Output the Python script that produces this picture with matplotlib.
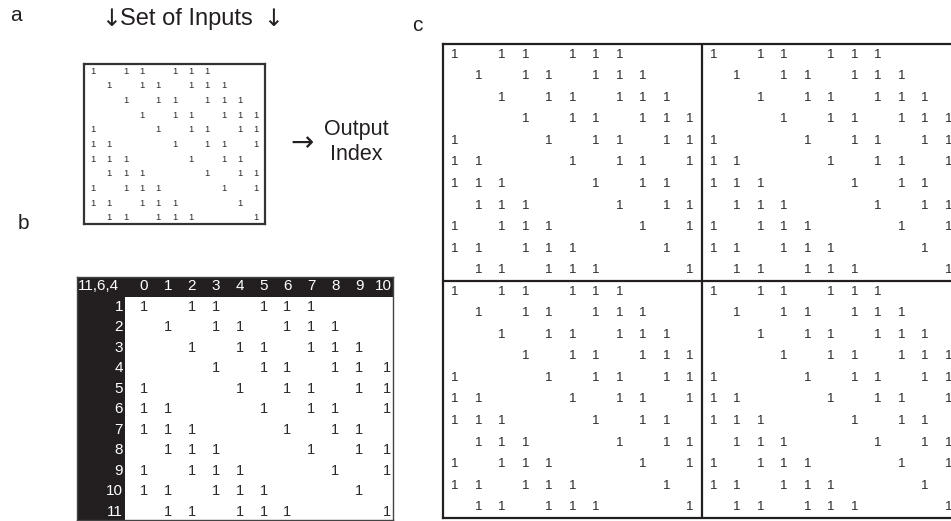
import matplotlib
matplotlib.use("Agg")
import matplotlib.pyplot as plt
from matplotlib.patches import Rectangle

plt.rcParams['font.family'] = ['Liberation Sans', 'DejaVu Sans']

# ---- data -------------------------------------------------------------
design_label = "11,6,4"
col_labels = ["0", "1", "2", "3", "4", "5", "6", "7", "8", "9", "10"]
row_labels = ["1", "2", "3", "4", "5", "6", "7", "8", "9", "10", "11"]
# columns holding a "1" in each row of the (11,6,4) design
ones_rows = [
    [0, 2, 3, 5, 6, 7],
    [1, 3, 4, 6, 7, 8],
    [2, 4, 5, 7, 8, 9],
    [3, 5, 6, 8, 9, 10],
    [0, 4, 6, 7, 9, 10],
    [0, 1, 5, 7, 8, 10],
    [0, 1, 2, 6, 8, 9],
    [1, 2, 3, 7, 9, 10],
    [0, 2, 3, 4, 8, 10],
    [0, 1, 3, 4, 5, 9],
    [1, 2, 4, 5, 6, 10],
]
tile_reps = (2, 2)  # panel c: 2 x 2 tiling
inputs_label = "Set of Inputs"
output_label = "Output\nIndex"
down_arrow = "\u2193"
right_arrow = "\u2192"

# ---- figure -----------------------------------------------------------
W, H = 951, 521
fig = plt.figure(figsize=(W / 100, H / 100), dpi=100)
fig.patch.set_facecolor("white")
INK = "#2b2b2b"
BLACK = "#231f20"


def px_axes(x0, y0, x1, y1):
    return fig.add_axes([x0 / W, 1 - y1 / H, (x1 - x0) / W, (y1 - y0) / H])


def ftext(x, y, s, **kw):
    return fig.text(x / W, 1 - y / H, s, **kw)


def clean(ax, lw, color=BLACK):
    ax.set_xticks([])
    ax.set_yticks([])
    for s in ax.spines.values():
        s.set_linewidth(lw)
        s.set_color(color)


n = len(ones_rows)
ncols = len(col_labels)

# ---- panel a ----------------------------------------------------------
axa = px_axes(84, 64, 265, 224)
axa.set_xlim(-0.55, ncols - 1 + 0.55)
axa.set_ylim(n - 1 + 0.41, -0.48)
clean(axa, 1.6, "#333333")
for r, cols in enumerate(ones_rows):
    for c in cols:
        axa.text(c, r, "1", ha="center", va="center", fontsize=6.8, color=INK)

ftext(10, 21, "a", fontsize=15, color=BLACK)
ftext(186, 19, inputs_label, fontsize=17, color=BLACK, ha="center", va="center")
ftext(111, 19, down_arrow, fontsize=17, color=BLACK, ha="center",
      va="center", family="DejaVu Sans")
ftext(273, 19, down_arrow, fontsize=17, color=BLACK, ha="center",
      va="center", family="DejaVu Sans")
ftext(302, 143, right_arrow, fontsize=20, color=BLACK, ha="center",
      va="center", family="DejaVu Sans")
ftext(356, 142, output_label, fontsize=15.5, color=BLACK,
      ha="center", va="center", linespacing=1.25)

# ---- panel b ----------------------------------------------------------
ftext(18, 229, "b", fontsize=15, color=BLACK)
axb = px_axes(77, 277, 393, 520)
xl, xr = -2.8, 10.42
yt, yb = -0.46, n + 0.39
axb.set_xlim(xl, xr)
axb.set_ylim(yb, yt)
clean(axb, 1.0, "#444444")
axb.add_patch(Rectangle((xl, yt), xr - xl, 0.51 - yt, color=BLACK, lw=0))
axb.add_patch(Rectangle((xl, yt), -0.8 - xl, yb - yt, color=BLACK, lw=0))
axb.text(-1.92, 0, design_label, ha="center", va="center", fontsize=11,
         color="white")
for c, lab in enumerate(col_labels):
    axb.text(c, 0, lab, ha="center", va="center", fontsize=11, color="white")
for r, lab in enumerate(row_labels):
    axb.text(-0.88, r + 1, lab, ha="right", va="center", fontsize=11,
             color="white")
for r, cols in enumerate(ones_rows):
    for c in cols:
        axb.text(c + (0.15 if c == ncols - 1 else 0), r + 1, "1",
                 ha="center", va="center", fontsize=10.5, color=INK)

# ---- panel c ----------------------------------------------------------
ftext(412, 31, "c", fontsize=15, color=BLACK)
axc = px_axes(443, 44, 960, 518)
ty, tx = tile_reps
axc.set_xlim(-0.5, tx * ncols - 0.5)
axc.set_ylim(ty * n - 0.5, -0.5)
clean(axc, 1.6, BLACK)
for i in range(1, tx):
    axc.axvline(i * ncols - 0.5, color=BLACK, lw=1.6)
for j in range(1, ty):
    axc.axhline(j * n - 0.5, color=BLACK, lw=1.6)
for ti in range(ty):
    for tj in range(tx):
        for r, cols in enumerate(ones_rows):
            for c in cols:
                axc.text(tj * ncols + c, ti * n + r, "1", ha="center",
                         va="center", fontsize=9.5, color=INK)

fig.savefig("out.png", dpi=100)
